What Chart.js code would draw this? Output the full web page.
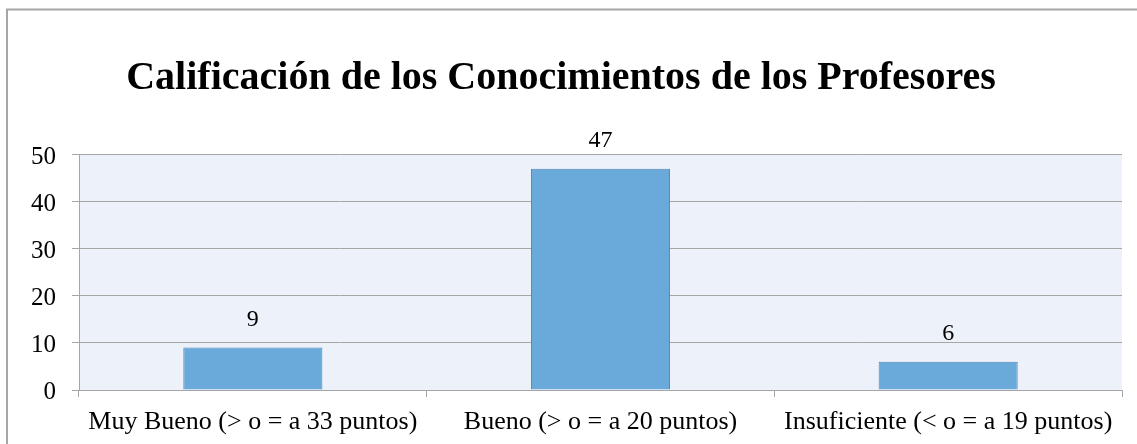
<!DOCTYPE html>
<html>
<head>
<meta charset="utf-8">
<script src="https://cdn.jsdelivr.net/npm/chart.js@4"></script>
<style>
  html, body { margin: 0; padding: 0; background: #ffffff; }
  #wrap { width: 1137px; height: 444px; position: relative; }
</style>
</head>
<body>
<div id="wrap"><canvas id="grafico" width="1137" height="444"></canvas></div>
<script>
// datos del grafico
const categorias = [
    'Muy Bueno (> o = a 33 puntos)',
    'Bueno (> o = a 20 puntos)',
    'Insuficiente (< o = a 19 puntos)'
]
const valores = [9, 47, 6]
const tituloGrafico = 'Calificación de los Conocimientos de los Profesores'
const ejeYMax = 50
const ejeYPaso = 10

const fuente = "'Liberation Serif', 'Times New Roman', serif"

// fondo del area de trazado + borde exterior
const fondoPlugin = {
    id: 'fondo',
    beforeDraw(chart) {
        const ctx = chart.ctx
        const a = chart.chartArea
        ctx.save()
        ctx.fillStyle = '#edf1f9'
        ctx.fillRect(a.left, a.top, a.right - a.left, a.bottom - a.top)
        ctx.strokeStyle = '#a6a6a6'
        ctx.lineWidth = 2
        ctx.beginPath()
        ctx.moveTo(7, 444)
        ctx.lineTo(7, 9.5)
        ctx.lineTo(1137, 9.5)
        ctx.stroke()
        ctx.restore()
    }
}

// etiquetas de valor encima de las barras
const etiquetasPlugin = {
    id: 'etiquetas',
    afterDatasetsDraw(chart) {
        const ctx = chart.ctx
        const meta = chart.getDatasetMeta(0)
        ctx.save()
        ctx.font = '24px ' + fuente
        ctx.fillStyle = '#000000'
        ctx.textAlign = 'center'
        ctx.textBaseline = 'middle'
        meta.data.forEach((bar, i) => {
            ctx.fillText(String(valores[i]), bar.x, bar.y - 28)
        })
        ctx.restore()
    }
}

const ctx = document.getElementById('grafico')
new Chart(ctx, {
    type: 'bar',
    data: {
        labels: categorias,
        datasets: [{
            data: valores,
            backgroundColor: '#6aaadb',
            borderColor: '#4f88bb',
            borderWidth: 1,
            categoryPercentage: 0.4,
            barPercentage: 1.0
        }]
    },
    options: {
        responsive: false,
        animation: false,
        layout: { padding: { left: 0, right: 15, top: 0, bottom: 0 } },
        plugins: {
            legend: { display: false },
            tooltip: { enabled: false },
            title: {
                display: true,
                text: tituloGrafico,
                color: '#000000',
                font: { family: fuente, size: 40, weight: 'bold', lineHeight: 1.2 },
                padding: { top: 55, bottom: 51.5 }
            }
        },
        scales: {
            x: {
                grid: {
                    display: true,
                    drawOnChartArea: false,
                    drawTicks: true,
                    tickLength: 7,
                    color: '#a6a6a6'
                },
                border: { display: true, color: '#a6a6a6', width: 1 },
                ticks: {
                    color: '#000000',
                    font: { family: fuente, size: 26 },
                    padding: 10,
                    maxRotation: 0,
                    autoSkip: false
                },
                afterFit(scale) { scale.height = 54 }
            },
            y: {
                min: 0,
                max: ejeYMax,
                grid: {
                    color: '#a6a6a6',
                    tickLength: 7
                },
                border: { display: true, color: '#a6a6a6', width: 1 },
                ticks: {
                    stepSize: ejeYPaso,
                    color: '#000000',
                    font: { family: fuente, size: 25 },
                    padding: 16,
                    labelOffset: 2.5
                },
                afterFit(scale) { scale.width = 79 }
            }
        }
    },
    plugins: [fondoPlugin, etiquetasPlugin]
})
</script>
</body>
</html>
